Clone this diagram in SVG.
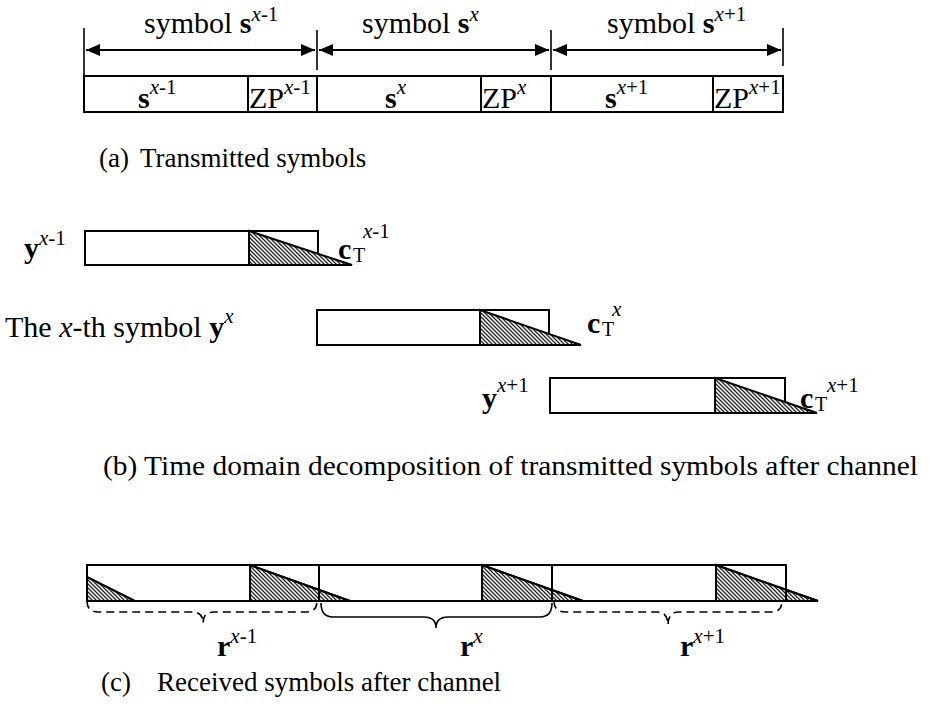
<svg xmlns="http://www.w3.org/2000/svg" width="939" height="719" viewBox="0 0 939 719">
<defs>
<style>
text{font-family:"Liberation Serif","Times New Roman",serif;font-size:30px;fill:#000}
.cap{font-size:27px}
.sup{font-size:21px}
.sub{font-size:20px}
.it{font-style:italic}
.b{font-weight:bold}
.box{fill:none;stroke:#000;stroke-width:2}
.ln{fill:none;stroke:#000;stroke-width:2}
.tick{stroke:#000;stroke-width:1.6}
.hatch{fill:url(#hp);stroke:#000;stroke-width:2;stroke-linejoin:miter}
.dash{fill:none;stroke:#000;stroke-width:1.6;stroke-dasharray:8 5}
.brace{fill:none;stroke:#000;stroke-width:1.6}
</style>
<pattern id="hp" patternUnits="userSpaceOnUse" width="4" height="4">
<rect width="4" height="4" fill="#fff"/>
<path d="M-1,-1 L5,5 M-1,3 L1,5 M3,-1 L5,1" stroke="#222" stroke-width="1.3"/>
</pattern>
<marker id="ah" markerUnits="userSpaceOnUse" markerWidth="16" markerHeight="14" refX="14" refY="7" orient="auto-start-reverse">
<path d="M0,1 L14,7 L0,13 Z" fill="#000"/>
</marker>
</defs>

<g id="connectors">
<line class="tick" x1="84" y1="28" x2="84" y2="75"/>
<line class="tick" x1="317" y1="30" x2="317" y2="70"/>
<line class="tick" x1="551" y1="30" x2="551" y2="70"/>
<line class="tick" x1="783" y1="28" x2="783" y2="66"/>
<line class="ln" x1="86" y1="50" x2="315" y2="50" marker-start="url(#ah)" marker-end="url(#ah)"/>
<line class="ln" x1="319" y1="50" x2="549" y2="50" marker-start="url(#ah)" marker-end="url(#ah)"/>
<line class="ln" x1="553" y1="50" x2="781" y2="50" marker-start="url(#ah)" marker-end="url(#ah)"/>
</g>

<g id="top-labels">
<text x="144" y="33">symbol <tspan class="b">s</tspan><tspan class="sup it" dy="-12">x</tspan><tspan class="sup">-1</tspan></text>
<text x="362" y="33">symbol <tspan class="b">s</tspan><tspan class="sup it" dy="-12">x</tspan></text>
<text x="607" y="33">symbol <tspan class="b">s</tspan><tspan class="sup it" dy="-12">x</tspan><tspan class="sup">+1</tspan></text>
</g>

<g id="tx-symbols">
<rect class="box" x="84" y="76" width="699" height="36"/>
<line class="ln" x1="248" y1="76" x2="248" y2="112"/>
<line class="ln" x1="317" y1="76" x2="317" y2="112"/>
<line class="ln" x1="481" y1="76" x2="481" y2="112"/>
<line class="ln" x1="551" y1="76" x2="551" y2="112"/>
<line class="ln" x1="713" y1="76" x2="713" y2="112"/>
<text x="138" y="108"><tspan class="b">s</tspan><tspan class="sup it" dy="-14">x</tspan><tspan class="sup">-1</tspan></text>
<text x="249" y="108">ZP<tspan class="sup it" dy="-14">x</tspan><tspan class="sup">-1</tspan></text>
<text x="385" y="108"><tspan class="b">s</tspan><tspan class="sup it" dy="-14">x</tspan></text>
<text x="482" y="108">ZP<tspan class="sup it" dy="-14">x</tspan></text>
<text x="605" y="108"><tspan class="b">s</tspan><tspan class="sup it" dy="-14">x</tspan><tspan class="sup">+1</tspan></text>
<text x="714" y="108">ZP<tspan class="sup it" dy="-14">x</tspan><tspan class="sup">+1</tspan></text>
</g>

<g id="caption-a">
<text class="cap" x="99" y="167">(a)</text>
<text class="cap" x="140" y="167">Transmitted symbols</text>
</g>

<g id="y-prev">
<rect class="box" x="85" y="231" width="233" height="34"/>
<path class="hatch" d="M249,231 L352,265 L249,265 Z"/>
<line class="ln" x1="249" y1="231" x2="318" y2="231"/>
<text x="24" y="258"><tspan class="b">y</tspan><tspan class="sup it" dy="-13">x</tspan><tspan class="sup">-1</tspan></text>
<text class="b" x="338" y="259">c</text>
<text class="sub" x="353" y="262">T</text>
<text class="sup it" x="363" y="238">x<tspan font-style="normal">-1</tspan></text>
</g>

<g id="y-cur">
<rect class="box" x="317" y="310" width="232" height="35"/>
<path class="hatch" d="M480,310 L581,345 L480,345 Z"/>
<line class="ln" x1="480" y1="310" x2="549" y2="310"/>
<text x="5" y="337" font-size="31">The <tspan class="it">x</tspan>-th symbol <tspan class="b">y</tspan><tspan class="sup it" dy="-14">x</tspan></text>
<text class="b" x="587" y="333">c</text>
<text class="sub" x="602" y="336">T</text>
<text class="sup it" x="612" y="316">x</text>
</g>

<g id="y-next">
<rect class="box" x="550" y="378" width="235" height="35"/>
<path class="hatch" d="M715,378 L817,413 L715,413 Z"/>
<line class="ln" x1="715" y1="378" x2="785" y2="378"/>
<text x="482" y="408"><tspan class="b">y</tspan><tspan class="sup it" dy="-16">x</tspan><tspan class="sup">+1</tspan></text>
<text class="b" x="800" y="408">c</text>
<text class="sub" x="815" y="411">T</text>
<text class="sup it" x="827" y="392">x<tspan font-style="normal">+1</tspan></text>
</g>

<g id="caption-b">
<text class="cap" x="103" y="475" textLength="815" lengthAdjust="spacingAndGlyphs">(b) Time domain decomposition of transmitted symbols after channel</text>
</g>

<g id="rx-symbols">
<path class="hatch" d="M87,577 L135,601 L87,601 Z"/>
<path class="hatch" d="M250,565 L350,601 L250,601 Z"/>
<path class="hatch" d="M482,565 L583,601 L482,601 Z"/>
<path class="hatch" d="M716,565 L818,601 L716,601 Z"/>
<rect class="box" x="87" y="565" width="699" height="36"/>
<line class="ln" x1="319" y1="565" x2="319" y2="601"/>
<line class="ln" x1="552" y1="565" x2="552" y2="601"/>
<line class="ln" x1="250" y1="565" x2="250" y2="601"/>
<line class="ln" x1="482" y1="565" x2="482" y2="601"/>
<line class="ln" x1="716" y1="565" x2="716" y2="601"/>
<line class="ln" x1="250" y1="565" x2="350" y2="601"/>
<line class="ln" x1="482" y1="565" x2="583" y2="601"/>
<line class="ln" x1="716" y1="565" x2="818" y2="601"/>
<line class="ln" x1="87" y1="601" x2="818" y2="601"/>
</g>

<g id="braces">
<path class="dash" d="M87,601 Q87,612 98,612 L192,612 Q203,612 203,623 Q203,612 214,612 L306,612 Q317,612 317,601"/>
<path class="brace" d="M321,603 Q321,617 333,617 L424,617 Q436,617 436,628 Q436,617 448,617 L540,617 Q552,617 552,603"/>
<path class="dash" d="M554,601 Q554,612 565,612 L657,612 Q668,612 668,625 Q668,612 679,612 L771,612 Q782,612 782,601"/>
</g>

<g id="rx-labels">
<text x="217" y="656"><tspan class="b">r</tspan><tspan class="sup it" dy="-13">x</tspan><tspan class="sup">-1</tspan></text>
<text x="460" y="656"><tspan class="b">r</tspan><tspan class="sup it" dy="-13">x</tspan></text>
<text x="680" y="656"><tspan class="b">r</tspan><tspan class="sup it" dy="-13">x</tspan><tspan class="sup">+1</tspan></text>
</g>

<g id="caption-c">
<text class="cap" x="101" y="691">(c)</text>
<text class="cap" x="157" y="691">Received symbols after channel</text>
</g>
</svg>
